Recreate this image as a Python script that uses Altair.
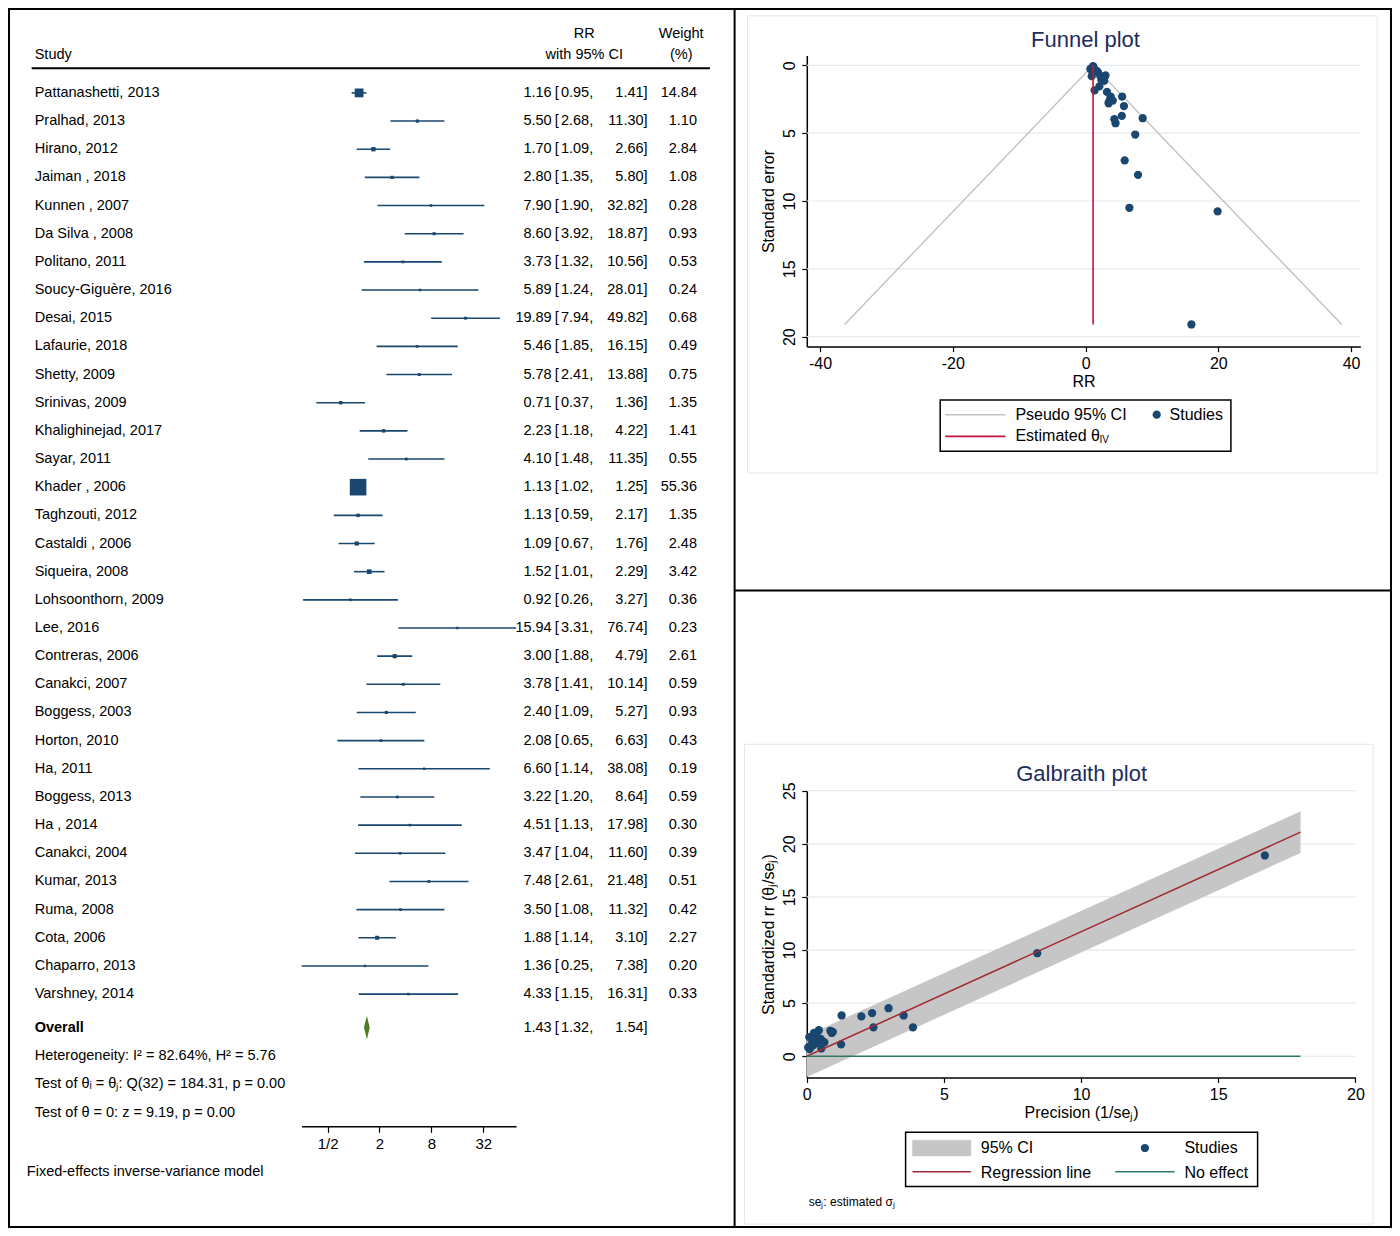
import altair as alt
import pandas as pd

# ---------------- data ----------------
studies = ["Pattanashetti, 2013", "Pralhad, 2013", "Hirano, 2012", "Jaiman , 2018", "Kunnen , 2007",
           "Da Silva , 2008", "Politano, 2011", "Soucy-Giguère, 2016", "Desai, 2015", "Lafaurie, 2018",
           "Shetty, 2009", "Srinivas, 2009", "Khalighinejad, 2017", "Sayar, 2011", "Khader , 2006",
           "Taghzouti, 2012", "Castaldi , 2006", "Siqueira, 2008", "Lohsoonthorn, 2009", "Lee, 2016",
           "Contreras, 2006", "Canakci, 2007", "Boggess, 2003", "Horton, 2010", "Ha, 2011",
           "Boggess, 2013", "Ha , 2014", "Canakci, 2004", "Kumar, 2013", "Ruma, 2008",
           "Cota, 2006", "Chaparro, 2013", "Varshney, 2014"]
rr = [1.16, 5.50, 1.70, 2.80, 7.90, 8.60, 3.73, 5.89, 19.89, 5.46, 5.78, 0.71, 2.23, 4.10, 1.13,
      1.13, 1.09, 1.52, 0.92, 15.94, 3.00, 3.78, 2.40, 2.08, 6.60, 3.22, 4.51, 3.47, 7.48, 3.50,
      1.88, 1.36, 4.33]
ci_low = [0.95, 2.68, 1.09, 1.35, 1.90, 3.92, 1.32, 1.24, 7.94, 1.85, 2.41, 0.37, 1.18, 1.48, 1.02,
          0.59, 0.67, 1.01, 0.26, 3.31, 1.88, 1.41, 1.09, 0.65, 1.14, 1.20, 1.13, 1.04, 2.61, 1.08,
          1.14, 0.25, 1.15]
ci_high = [1.41, 11.30, 2.66, 5.80, 32.82, 18.87, 10.56, 28.01, 49.82, 16.15, 13.88, 1.36, 4.22, 11.35,
           1.25, 2.17, 1.76, 2.29, 3.27, 76.74, 4.79, 10.14, 5.27, 6.63, 38.08, 8.64, 17.98, 11.60,
           21.48, 11.32, 3.10, 7.38, 16.31]
weights = [14.84, 1.10, 2.84, 1.08, 0.28, 0.93, 0.53, 0.24, 0.68, 0.49, 0.75, 1.35, 1.41, 0.55, 55.36,
           1.35, 2.48, 3.42, 0.36, 0.23, 2.61, 0.59, 0.93, 0.43, 0.19, 0.59, 0.30, 0.39, 0.51, 0.42,
           2.27, 0.20, 0.33]
overall = {"rr": 1.43, "lo": 1.32, "hi": 1.54}
stats_lines = ["Heterogeneity: I² = 82.64%, H² = 5.76",
               "Test of θᵢ = θⱼ: Q(32) = 184.31, p = 0.00",
               "Test of θ = 0: z = 9.19, p = 0.00"]
forest_ticks = [0.5, 2, 8, 32]

# funnel plot (RR vs standard error)
funnel_se = [0.12, 2.30, 0.42, 1.15, 8.07, 3.90, 2.45, 7.00, 10.76, 3.73, 3.00, 0.27, 0.80, 2.60, 0.06,
             0.42, 0.30, 0.35, 0.80, 19.10, 0.75, 2.30, 1.10, 1.55, 10.50, 1.96, 4.27, 2.80, 5.10, 2.70,
             0.52, 1.84, 3.97]
funnel_theta = 1.13
funnel_ci_x = [-36.3, 1.13, 38.6]
funnel_ci_y = [19.1, 0.0, 19.1]
funnel_max_se = 19.1
funnel_xticks = [-40, -20, 0, 20, 40]
funnel_yticks = [0, 5, 10, 15, 20]

# Galbraith plot
galb_prec = [8.40, 0.44, 2.38, 0.86, 0.12, 0.26, 0.41, 0.14, 0.09, 0.27, 0.33, 3.87, 0.95, 0.39, 16.70,
             2.43, 3.53, 2.98, 1.25, 0.05, 1.27, 0.44, 0.91, 0.64, 0.10, 0.51, 0.22, 0.36, 0.20, 0.37,
             1.99, 0.53, 0.25]
galb_z = [9.70, 2.45, 4.06, 2.40, 0.98, 2.20, 1.53, 0.84, 1.80, 1.46, 1.92, 2.73, 2.30, 1.58, 18.90,
          2.73, 3.84, 4.52, 1.12, 0.83, 3.84, 1.65, 2.19, 1.32, 0.68, 1.64, 1.02, 1.25, 1.51, 1.30,
          3.75, 0.73, 1.09]
galb_line_x = [0, 18]
galb_line_y = [0, 21.1]
galb_band_lo = [-1.96, 19.14]
galb_band_hi = [1.96, 23.06]
galb_xticks = [0, 5, 10, 15, 20]
galb_yticks = [0, 5, 10, 15, 20, 25]

# ---------------- layout helpers ----------------
W, H = 1384, 1220
SX, SY = W / 1400, H / 1236


def px(v):
    return round(v * SX, 1)


def py(v):
    return round(v * SY, 1)


FONT = "Liberation Sans"
FS = 14.5
NAVY = "#1a476f"
TITLE_C = "#1c2d5e"
RED = "#c8143c"
DKRED = "#a02a30"
TEAL = "#2a7a6c"
GREEN = "#4f7d26"
GRID = "#e3ebee"
CIGRAY = "#c2c2c2"
BAND = "#c6c6c6"

base = alt.Chart(pd.DataFrame({"k": [0]}))


def label(text, x, y, align="left", size=FS, weight="normal", color="black", baseline="middle"):
    return base.mark_text(text=text, align=align, baseline=baseline, font=FONT, fontSize=size,
                          fontWeight=weight, color=color).encode(x=alt.value(px(x)), y=alt.value(py(y)))


def hline(x1, x2, y, color="black", w=2.0):
    return base.mark_rule(color=color, strokeWidth=w).encode(
        x=alt.value(px(x1)), x2=alt.value(px(x2)), y=alt.value(py(y)))


def vline(x, y1, y2, color="black", w=2.0):
    return base.mark_rule(color=color, strokeWidth=w).encode(
        x=alt.value(px(x)), y=alt.value(py(y1)), y2=alt.value(py(y2)))


def box(x1, x2, y1, y2, stroke="black", w=1.5, fill="white", fop=1.0):
    return base.mark_rect(stroke=stroke, strokeWidth=w, fill=fill, fillOpacity=fop).encode(
        x=alt.value(px(x1)), x2=alt.value(px(x2)), y=alt.value(py(y1)), y2=alt.value(py(y2)))


def axis(orient, offset, values, title=None, angle=0, **kw):
    opts = dict(orient=orient, offset=offset, values=values, grid=False, domainColor="black",
                domainWidth=1.5, tickColor="black", tickWidth=1.2, tickSize=5, labelFont=FONT,
                labelFontSize=16, labelColor="black", labelPadding=4, labelFlush=False,
                labelOverlap=False, titleFont=FONT, titleFontSize=16, titleFontWeight="normal",
                titleColor="black", labelExpr="'' + datum.value")
    opts["title"] = title if title is not None else ""
    if angle:
        opts["labelAngle"] = angle
        opts["labelAlign"] = "center"
        opts["labelBaseline"] = "bottom"
    opts.update(kw)
    return alt.Axis(**opts)


# ---------------- forest plot ----------------
df_f = pd.DataFrame({
    "row": list(range(len(studies))), "study": studies, "rr": rr, "lo": ci_low, "hi": ci_high,
    "w": weights,
    "rr_txt": [f"{v:.2f}" for v in rr],
    "lo_txt": [f"{v:.2f}," for v in ci_low],
    "hi_txt": [f"{v:.2f}]" for v in ci_high],
    "w_txt": [f"{v:.2f}" for v in weights],
})
ov_row = 33.19
df_ov = pd.DataFrame({"row": [ov_row], "rr_txt": [f"{overall['rr']:.2f}"],
                      "lo_txt": [f"{overall['lo']:.2f},"], "hi_txt": [f"{overall['hi']:.2f}]"]})
df_dia = pd.DataFrame({"x": [overall["lo"], overall["rr"], overall["hi"]],
                       "top": [ov_row, ov_row - 0.42, ov_row],
                       "bot": [ov_row, ov_row + 0.42, ov_row]})

fx = alt.Scale(type="log", base=2, domain=[0.25, 76.74], range=[px(297), px(514)], nice=False)
fy = alt.Scale(domain=[0, 32], range=[py(86), py(999)], nice=False, zero=False)
f_axis = axis("bottom", py(1133) - H, forest_ticks, labelFontSize=15, tickSize=6,
              labelExpr="datum.value < 1 ? '1/2' : format(datum.value, 'd')")
FX = lambda f: alt.X(f, scale=fx, axis=f_axis)
FY = lambda f: alt.Y(f, scale=fy, axis=None)

fc = alt.Chart(df_f)
ci_rules = fc.mark_rule(color=NAVY, strokeWidth=1.6).encode(x=FX("lo:Q"), x2="hi:Q", y=FY("row:Q"))
squares = fc.mark_square(color=NAVY, opacity=1).encode(
    x=FX("rr:Q"), y=FY("row:Q"),
    size=alt.Size("w:Q", scale=alt.Scale(domain=[0, 55.36], range=[5, 275]), legend=None))
diamond = alt.Chart(df_dia).mark_area(color=GREEN, orient="vertical", opacity=1).encode(
    x=FX("x:Q"), y=FY("top:Q"), y2="bot:Q")


def coltext(df, field, x, align):
    return alt.Chart(df).mark_text(align=align, baseline="middle", font=FONT, fontSize=FS,
                                   color="black").encode(
        x=alt.value(px(x)), y=FY("row:Q"), text=f"{field}:N")


def consttext(df, text, x, align, weight="normal"):
    return alt.Chart(df).mark_text(text=text, align=align, baseline="middle", font=FONT,
                                   fontSize=FS, fontWeight=weight, color="black").encode(
        x=alt.value(px(x)), y=FY("row:Q"))


forest_layers = [
    ci_rules, squares, diamond,
    coltext(df_f, "study", 27, "left"),
    coltext(df_f, "rr_txt", 550, "right"),
    consttext(df_f, "[", 553, "left"),
    coltext(df_f, "lo_txt", 592, "right"),
    coltext(df_f, "hi_txt", 647, "right"),
    coltext(df_f, "w_txt", 697, "right"),
    consttext(df_ov, "Overall", 27, "left", weight="bold"),
    coltext(df_ov, "rr_txt", 550, "right"),
    consttext(df_ov, "[", 553, "left"),
    coltext(df_ov, "lo_txt", 592, "right"),
    coltext(df_ov, "hi_txt", 647, "right"),
]
forest = alt.layer(*forest_layers)

forest_deco = [
    label("Study", 27, 48),
    label("RR", 583, 26, align="center"),
    label("with 95% CI", 583, 48, align="center"),
    label("Weight", 681, 26, align="center"),
    label("(%)", 681, 48, align="center"),
    hline(24, 710, 61, w=2),
    label(stats_lines[0], 27, 1062),
    label(stats_lines[1], 27, 1090),
    label(stats_lines[2], 27, 1119),
    label("Fixed-effects inverse-variance model", 19, 1179),
]

# ---------------- funnel plot ----------------
df_fun = pd.DataFrame({"rr": rr, "se": funnel_se})
df_fgrid = pd.DataFrame({"g": funnel_yticks, "a": [-42] * len(funnel_yticks), "b": [41.4] * len(funnel_yticks)})
df_fci = pd.DataFrame({"x": funnel_ci_x, "y": funnel_ci_y})
df_fred = pd.DataFrame({"x": [funnel_theta], "y1": [0.0], "y2": [funnel_max_se]})

ux = alt.Scale(domain=[-42, 41.4], range=[px(808), px(1368)], nice=False, zero=False)
uy = alt.Scale(domain=[-0.73, 20.73], range=[py(48), py(343)], nice=False, zero=False)
ux_axis = axis("bottom", py(343) - H, funnel_xticks, title="RR", titlePadding=2)
uy_axis = axis("left", -px(808), funnel_yticks, title="Standard error", angle=270, titlePadding=5)
UX = lambda f: alt.X(f, scale=ux, axis=ux_axis)
UY = lambda f: alt.Y(f, scale=uy, axis=uy_axis)

funnel = alt.layer(
    alt.Chart(df_fgrid).mark_rule(color=GRID, strokeWidth=1.2).encode(x=UX("a:Q"), x2="b:Q", y=UY("g:Q")),
    alt.Chart(df_fci).mark_line(color=CIGRAY, strokeWidth=1.4).encode(x=UX("x:Q"), y=UY("y:Q")),
    alt.Chart(df_fun).mark_circle(color=NAVY, size=68, opacity=1).encode(x=UX("rr:Q"), y=UY("se:Q")),
    alt.Chart(df_fred).mark_rule(color=RED, strokeWidth=1.6).encode(x=UX("x:Q"), y=UY("y1:Q"), y2="y2:Q"),
)

funnel_deco = [
    box(748, 1385, 8, 471, stroke="#e2e8eb", w=1, fop=0),
    label("Funnel plot", 1090, 32, align="center", size=22, color=TITLE_C),
    box(943, 1237, 397, 449),
    hline(948, 1009, 412, color=CIGRAY, w=1.5),
    label("Pseudo 95% CI", 1019, 412, size=16),
    base.mark_circle(size=68, color=NAVY, opacity=1).encode(x=alt.value(px(1162)), y=alt.value(py(412))),
    label("Studies", 1175, 412, size=16),
    hline(948, 1009, 434, color=RED, w=1.6),
    label("Estimated θ", 1019, 434, size=16),
    label("IV", 1104, 438, size=10),
]

# ---------------- Galbraith plot ----------------
df_g = pd.DataFrame({"p": galb_prec, "z": galb_z})
df_ggrid = pd.DataFrame({"g": galb_yticks, "a": [0] * len(galb_yticks), "b": [20] * len(galb_yticks)})
df_band = pd.DataFrame({"x": galb_line_x, "lo": galb_band_lo, "hi": galb_band_hi})
df_reg = pd.DataFrame({"x": galb_line_x, "y": galb_line_y})
df_noef = pd.DataFrame({"x": [galb_line_x[0]], "x2": [galb_line_x[1]], "y": [0.0]})

gx = alt.Scale(domain=[0, 20], range=[px(808), px(1363)], nice=False, zero=False)
gy = alt.Scale(domain=[-2, 25], range=[py(1083.5), py(793)], nice=False, zero=False)
gx_axis = axis("bottom", py(1083.5) - H, galb_xticks, title="Precision (1/seⱼ)", titlePadding=2)
gy_axis = axis("left", -px(808), galb_yticks, title="Standardized rr  (θⱼ/seⱼ)", angle=270, titlePadding=5)
GX = lambda f: alt.X(f, scale=gx, axis=gx_axis)
GY = lambda f: alt.Y(f, scale=gy, axis=gy_axis)

galbraith = alt.layer(
    alt.Chart(df_ggrid).mark_rule(color=GRID, strokeWidth=1.2).encode(x=GX("a:Q"), x2="b:Q", y=GY("g:Q")),
    alt.Chart(df_band).mark_area(color=BAND, opacity=1, orient="vertical").encode(x=GX("x:Q"), y=GY("lo:Q"), y2="hi:Q"),
    alt.Chart(df_g).mark_circle(color=NAVY, size=68, opacity=1).encode(x=GX("p:Q"), y=GY("z:Q")),
    alt.Chart(df_reg).mark_line(color=DKRED, strokeWidth=1.5).encode(x=GX("x:Q"), y=GY("y:Q")),
    alt.Chart(df_noef).mark_rule(color=TEAL, strokeWidth=1.6).encode(x=GX("x:Q"), x2="x2:Q", y=GY("y:Q")),
)

galb_deco = [
    box(745, 1381, 746, 1232, stroke="#e2e8eb", w=1, fop=0),
    label("Galbraith plot", 1086, 776, align="center", size=22, color=TITLE_C),
    box(908, 1264, 1139, 1194),
    box(915, 974, 1147, 1163, stroke=BAND, w=0.5, fill=BAND),
    label("95% CI", 984, 1155, size=16),
    base.mark_circle(size=68, color=NAVY, opacity=1).encode(x=alt.value(px(1150)), y=alt.value(py(1155))),
    label("Studies", 1190, 1155, size=16),
    hline(915, 974, 1179, color=DKRED, w=1.5),
    label("Regression line", 984, 1180, size=16),
    hline(1120, 1180, 1179, color=TEAL, w=1.5),
    label("No effect", 1190, 1180, size=16),
    label("seⱼ: estimated σⱼ", 810, 1210, size=12),
]

frames = [
    box(1, 1399, 1, 1235, stroke="black", w=2, fop=0),
    vline(735, 0, 1236, w=2),
    hline(735, 1400, 590, w=2),
]

deco = alt.layer(*(forest_deco + funnel_deco + galb_deco + frames))

chart = alt.layer(forest, funnel, galbraith, deco).resolve_scale(
    x="independent", y="independent", size="independent"
).properties(
    width=W, height=H, padding=0, autosize=alt.AutoSizeParams(type="none")
).configure_view(strokeWidth=0).configure(background="white")

chart.save("out.html", embed_options={"renderer": "svg", "actions": False})
